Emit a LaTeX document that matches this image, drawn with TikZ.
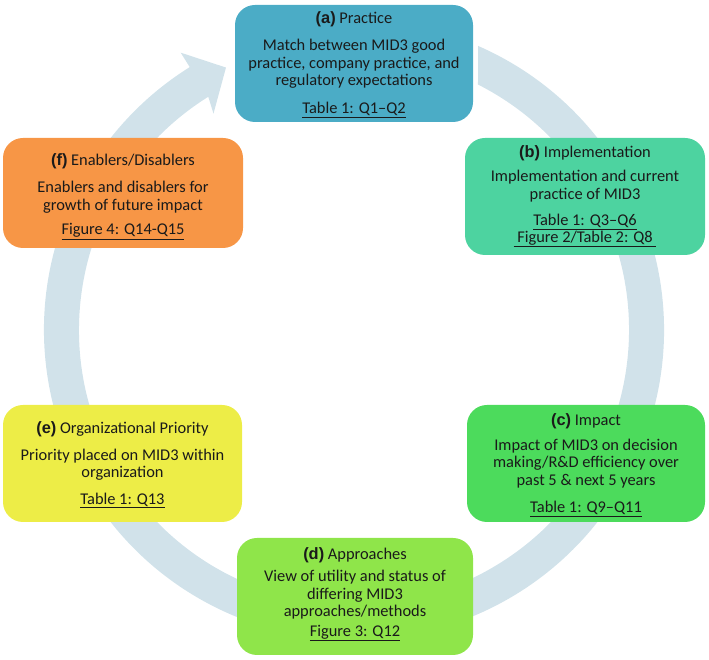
\documentclass[tikz,border=0pt]{standalone}
\usepackage{fontspec}
\setmainfont{Carlito}
\newfontfamily\lblfont{Liberation Sans}
\definecolor{ringc}{HTML}{D1E2EA}
\definecolor{ca}{HTML}{4BACC6}
\definecolor{cb}{HTML}{4DD3A0}
\definecolor{cc}{HTML}{4CDB5C}
\definecolor{cd}{HTML}{8FE54A}
\definecolor{ce}{HTML}{EDED47}
\definecolor{cf}{HTML}{F79646}
\definecolor{txt}{HTML}{1A1A1A}
\newcommand{\lbl}[1]{{\lblfont\bfseries #1}}
\tikzset{
  box/.style={rounded corners=20pt, draw=none, inner sep=0pt, align=center,
    text=txt, font=\fontsize{16.4}{17.5}\selectfont},
  txtnode/.style={inner sep=0pt, align=center, text=txt,
    font=\fontsize{16.4}{17.5}\selectfont},
}
\begin{document}
\begin{tikzpicture}[x=1pt,y=1pt]
\useasboundingbox (0,0) rectangle (709,660);
% ring with arrow
\begin{scope}[shift={(354,330)}]
\fill[ringc] (66.4:310) arc[start angle=66.4, end angle=-238, radius=310]
  -- (122:327) -- (116:292) -- (123:258) -- (122:275)
  arc[start angle=-238, end angle=63.2, radius=275] -- cycle;
\end{scope}
% boxes
\node[box, fill=ca, minimum width=238pt, minimum height=117pt] (a) at (354,596.5) {};
\node[txtnode] (ta) at (354,595.5)
  {\lbl{(a)} Practice\\[10pt]
   Match between MID3 good\\ practice, company practice, and\\ regulatory expectations\\[10pt]
   \underline{Table 1: Q1–Q2}};
\node[box, fill=cb, minimum width=240pt, minimum height=117pt] (b) at (585,463.5) {};
\node[txtnode] (tb) at (585,464)
  {\lbl{(b)} Implementation\\[7pt]
   Implementation and current\\ practice of MID3\\[9pt]
   \underline{Table 1: Q3–Q6}\\[-1pt]
   \underline{\ Figure 2/Table 2: Q8\ }};
\node[box, fill=cc, minimum width=238pt, minimum height=117pt] (c) at (586,196.5) {};
\node[txtnode] (tc) at (586,194.5)
  {\lbl{(c)} Impact\\[7pt]
   Impact of MID3 on decision\\ making/R\&D efficiency over\\ past 5 \& next 5 years\\[10pt]
   \underline{Table 1: Q9–Q11}};
\node[box, fill=cd, minimum width=236pt, minimum height=117pt] (d) at (355,63.5) {};
\node[txtnode] (td) at (355,66)
  {\lbl{(d)} Approaches\\[5pt]
   View of utility and status of\\ differing MID3\\ approaches/methods\\[2pt]
   \underline{Figure 3: Q12}};
\node[box, fill=ce, minimum width=239pt, minimum height=117pt] (e) at (122.5,196.5) {};
\node[txtnode] (te) at (122.5,195)
  {\lbl{(e)} Organizational Priority\\[9pt]
   Priority placed on MID3 within\\ organization\\[9pt]
   \underline{Table 1: Q13}};
\node[box, fill=cf, minimum width=240pt, minimum height=110pt] (f) at (123,467) {};
\node[txtnode] (tf) at (123,463.5)
  {\lbl{(f)} Enablers/Disablers\\[10pt]
   Enablers and disablers for\\ growth of future impact\\[7pt]
   \underline{Figure 4: Q14-Q15}};
\end{tikzpicture}
\end{document}
